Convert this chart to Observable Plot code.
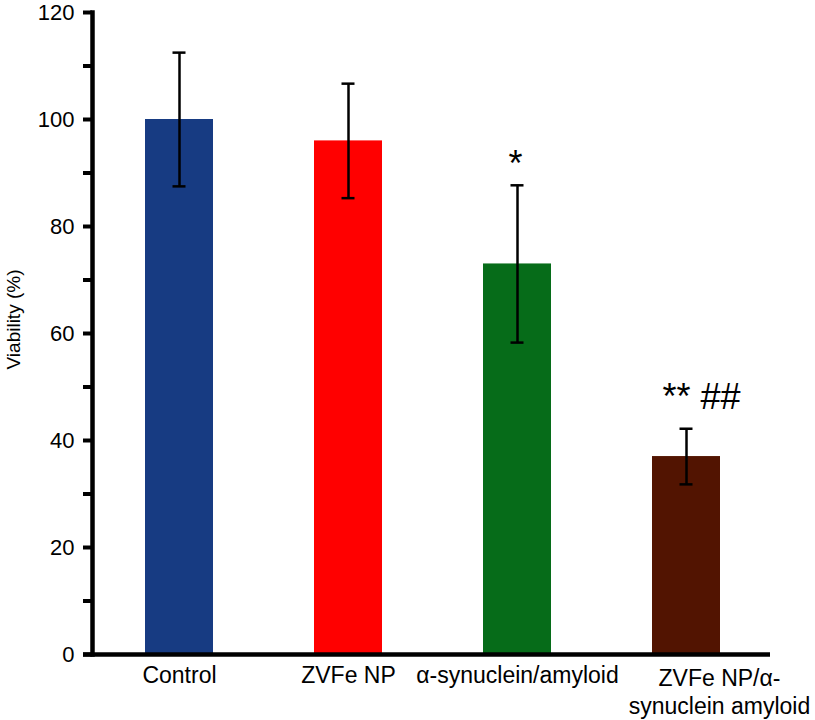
<!DOCTYPE html>
<html>
<head>
<meta charset="utf-8">
<script src="https://cdn.jsdelivr.net/npm/d3@7"></script>
<script src="https://cdn.jsdelivr.net/npm/@observablehq/plot@0.6"></script>
<style>
  html, body { margin: 0; padding: 0; background: #fff; }
  svg { font-family: "Liberation Sans", Arial, sans-serif; }
</style>
</head>
<body>
<div id="chart"></div>
<script>
const categories = ["Control", "ZVFe NP", "α-synuclein/amyloid", "ZVFe NP/α-\nsynuclein amyloid"];
const viability = [100, 96, 73, 37];
const errors = [12.5, 10.7, 14.7, 5.2];
const colors = ["#173b82", "#ff0000", "#066c19", "#521401"];
const yTicks = [0, 10, 20, 30, 40, 50, 60, 70, 80, 90, 100, 110, 120];
const annotations = [
  {category: categories[2], label: "*"},
  {category: categories[3], label: "** ##"}
];

const data = categories.map((c, i) => ({
  category: c, value: viability[i], err: errors[i], color: colors[i],
  lo: viability[i] - errors[i], hi: viability[i] + errors[i]
}));
const ann = annotations.map(a => {
  const d = data.find(r => r.category === a.category);
  return {...a, top: d.hi};
});

const chart = Plot.plot({
  width: 815,
  height: 720,
  marginLeft: 92,
  marginRight: 43,
  marginTop: 12,
  marginBottom: 66,
  style: {fontFamily: '"Liberation Sans", Arial, sans-serif', background: "#fff"},
  x: {domain: categories, paddingInner: 0.6, paddingOuter: 0.31, axis: null},
  y: {domain: [0, 120], axis: null},
  marks: [
    Plot.barY(data, {x: "category", y: "value", fill: "color"}),
    Plot.ruleX(data, {x: "category", y1: "lo", y2: "hi", stroke: "#000", strokeWidth: 2.5}),
    Plot.tickY(data, {x: "category", y: "hi", stroke: "#000", strokeWidth: 2.5, insetLeft: 27.5, insetRight: 27.5}),
    Plot.tickY(data, {x: "category", y: "lo", stroke: "#000", strokeWidth: 2.5, insetLeft: 27.5, insetRight: 27.5}),
    Plot.axisY({
      ticks: yTicks,
      tickFormat: d => d % 20 === 0 ? d : "",
      tickSize: 9,
      tickPadding: 9,
      strokeWidth: 4,
      fontSize: 22,
      fill: "#000",
      label: null
    }),
    Plot.frame({anchor: "left", stroke: "#000", strokeWidth: 4.5}),
    Plot.ruleY([0], {stroke: "#000", strokeWidth: 4.5, insetLeft: -9, insetRight: 2}),
    Plot.text(data.filter((d, i) => i < 3), {
      x: "category", y: 0, text: "category", dy: 12, lineAnchor: "top",
      fontSize: 23, fill: "#000"
    }),
    Plot.text(data.filter((d, i) => i === 3), {
      x: "category", y: 0, text: "category", dy: 12, dx: 33, lineAnchor: "top",
      fontSize: 23, lineHeight: 1.2, fill: "#000"
    }),
    Plot.text(ann.filter(a => a.label === "*"), {
      x: "category", y: "top", text: "label", dy: -9, dx: -2, lineAnchor: "bottom",
      fontSize: 36, fill: "#000"
    }),
    Plot.text(ann.filter(a => a.label !== "*"), {
      x: "category", y: "top", text: "label", dy: -20, dx: 15, lineAnchor: "bottom",
      fontSize: 36, fill: "#000"
    }),
    Plot.text(["Viability (%)"], {
      frameAnchor: "left", rotate: -90, textAnchor: "middle", dx: -79, dy: -14,
      fontSize: 19, fill: "#000"
    })
  ]
});
document.getElementById("chart").appendChild(chart);
</script>
</body>
</html>
